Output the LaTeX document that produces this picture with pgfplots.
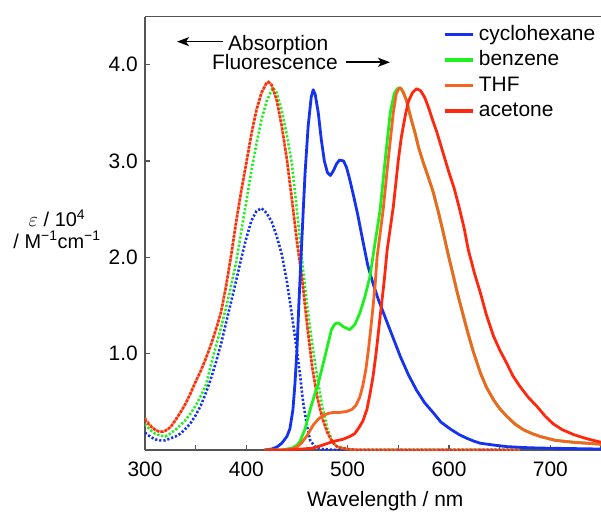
\documentclass[border=0pt]{standalone}
\usepackage{fontspec}
\setmainfont{Liberation Sans}
\usepackage{pgfplots}
\pgfplotsset{compat=1.18}
\usetikzlibrary{arrows.meta}
\definecolor{cblue}{RGB}{20,50,240}
\definecolor{cgreen}{RGB}{30,240,30}
\definecolor{cthf}{RGB}{245,100,35}
\definecolor{cacet}{RGB}{255,40,15}
\definecolor{axgray}{RGB}{85,85,85}
\begin{document}
\fontsize{21}{24}\selectfont
\begin{tikzpicture}
\useasboundingbox (-145bp,-62bp) rectangle (456bp,450bp);
\begin{axis}[
  at={(0,0)}, anchor=south west,
  scale only axis, width=456bp, height=433.5bp,
  xmin=300, xmax=750, ymin=0, ymax=4.5,
  axis x line*=box, axis y line*=left,
  axis line style={draw=axgray, line width=1.5bp, -},
  every tick/.style={draw=axgray, line width=1.2bp},
  tick align=inside,
  major tick length=5bp, minor tick length=5bp,
  xtick={300,400,...,700}, minor xtick={350,450,...,750},
  ytick={1,2,3,4},
  xtick pos=left, ytick pos=left,
  xticklabel style={anchor=base, yshift=-26.7bp, /pgf/number format/assume math mode=true},
  yticklabel style={/pgf/number format/.cd, fixed, fixed zerofill, precision=1, assume math mode=true},
  xlabel={Wavelength / nm},
  xlabel style={at={(axis description cs:0.527,0)}, anchor=base, yshift=-56bp},
  ylabel={$\varepsilon$ / 10\textsuperscript{4}\\/ M\textsuperscript{−1}cm\textsuperscript{−1}},
  ylabel style={rotate=-90, align=center, anchor=center, at={(axis description cs:-0.193,0.51)}, font=\fontsize{20}{21.5}\selectfont},
  legend style={draw=none, fill=none, at={(rel axis cs:0.653,0.988)}, anchor=north west, inner sep=0pt, row sep=0bp,
    nodes={inner ysep=3bp, inner xsep=4.5bp, text height=15.5bp, text depth=4bp}},
  legend cell align=left,
  legend image code/.code={\draw[#1, line width=3.5bp] (0bp,0bp) -- (28bp,0bp);},
  abs/.style={line width=2.6bp, dash pattern=on 2.2bp off 1.9bp},
  em/.style={line width=2.8bp, line join=round},
]
% absorption (dotted)
\addplot[abs, cblue, forget plot] coordinates {(300,0.18)(305,0.14)(310,0.11)(315,0.10)(320,0.10)(325,0.12)(330,0.14)(335,0.17)(340,0.22)(345,0.28)(350,0.36)(355,0.46)(360,0.59)(365,0.74)(370,0.91)(375,1.10)(380,1.32)(385,1.54)(390,1.76)(395,1.99)(400,2.20)(405,2.38)(410,2.48)(415,2.51)(420,2.46)(425,2.37)(430,2.22)(435,2.03)(440,1.75)(445,1.40)(450,1.02)(453,0.78)(456,0.50)(460,0.24)(463,0.10)(468,0.03)(475,0.01)(490,0)(670,0)};
\addplot[abs, cgreen, forget plot] coordinates {(300,0.27)(305,0.21)(310,0.17)(315,0.15)(320,0.14)(325,0.17)(330,0.21)(335,0.26)(340,0.31)(345,0.38)(350,0.46)(355,0.56)(360,0.67)(365,0.88)(370,1.08)(375,1.27)(380,1.48)(385,1.71)(390,1.95)(395,2.27)(400,2.58)(405,2.90)(410,3.18)(415,3.43)(420,3.62)(426,3.76)(430,3.71)(435,3.52)(440,3.27)(445,2.97)(450,2.48)(455,1.97)(460,1.50)(465,1.10)(470,0.75)(475,0.45)(480,0.22)(485,0.09)(490,0.03)(500,0.01)(510,0)(670,0)};
\addplot[abs, cthf, forget plot] coordinates {(300,0.33)(305,0.26)(310,0.21)(314,0.19)(318,0.19)(322,0.21)(326,0.25)(330,0.31)(335,0.39)(340,0.48)(345,0.59)(350,0.71)(355,0.82)(360,0.95)(365,1.09)(370,1.25)(375,1.43)(380,1.70)(385,2.02)(390,2.37)(395,2.69)(400,2.98)(405,3.28)(410,3.53)(415,3.71)(420,3.81)(422,3.82)(425,3.79)(430,3.63)(435,3.36)(440,3.02)(445,2.60)(450,2.16)(455,1.78)(460,1.30)(465,0.86)(470,0.55)(475,0.33)(480,0.18)(485,0.08)(490,0.03)(500,0.01)(510,0)(670,0)};
\addplot[abs, cacet, forget plot] coordinates {(300,0.31)(305,0.25)(310,0.21)(314,0.19)(318,0.19)(322,0.21)(326,0.25)(330,0.31)(335,0.39)(340,0.48)(345,0.59)(350,0.71)(355,0.82)(360,0.95)(365,1.09)(370,1.25)(375,1.43)(380,1.70)(385,2.02)(390,2.37)(395,2.69)(400,2.98)(405,3.28)(410,3.53)(415,3.71)(420,3.81)(422,3.82)(425,3.79)(430,3.63)(435,3.36)(440,3.02)(445,2.60)(450,2.16)(455,1.78)(460,1.30)(465,0.86)(470,0.55)(475,0.33)(480,0.18)(485,0.08)(490,0.03)(500,0.01)(510,0)(670,0)};
% fluorescence (solid)
\addplot[em, cblue] coordinates {(418,0)(425,0.01)(430,0.03)(435,0.07)(440,0.14)(443,0.22)(446,0.42)(448,0.69)(450,1.05)(452,1.55)(454,2.00)(456,2.45)(458,2.88)(461,3.36)(464,3.66)(466,3.74)(468,3.69)(471,3.50)(474,3.22)(477,3.00)(480,2.88)(483,2.85)(486,2.90)(489,2.97)(492,3.01)(496,3.00)(499,2.93)(502,2.81)(506,2.63)(510,2.44)(515,2.17)(520,1.91)(525,1.73)(530,1.57)(538,1.35)(545,1.16)(552,0.97)(560,0.78)(568,0.62)(576,0.49)(585,0.38)(592,0.29)(601,0.22)(610,0.16)(618,0.12)(625,0.09)(631,0.07)(645,0.05)(657,0.035)(675,0.025)(690,0.02)(720,0.015)(750,0.01)};
\addlegendentry{cyclohexane}
\addplot[em, cgreen] coordinates {(418,0)(435,0)(440,0.01)(445,0.02)(450,0.05)(453,0.09)(458,0.22)(463,0.42)(467,0.56)(471,0.69)(474,0.82)(477.6,0.97)(481,1.12)(484,1.25)(487.5,1.31)(490.8,1.32)(495.7,1.28)(502,1.25)(507,1.30)(512,1.42)(517,1.59)(522,1.80)(526,2.08)(532,2.49)(537,3.01)(542,3.50)(546,3.70)(549,3.75)(552,3.76)(555,3.71)(558,3.63)(562,3.46)(566.5,3.29)(570,3.14)(574.7,2.98)(580,2.82)(584.6,2.67)(590,2.45)(594.5,2.25)(599.4,2.02)(604,1.82)(608,1.64)(613,1.44)(618,1.24)(624,1.02)(631,0.80)(637,0.65)(644,0.52)(650,0.43)(657,0.35)(665,0.27)(673.5,0.21)(682,0.17)(690,0.14)(705,0.10)(723,0.08)(750,0.06)};
\addlegendentry{benzene}
\addplot[em, cthf] coordinates {(418,0)(440,0)(445,0.01)(450,0.03)(455,0.08)(460,0.15)(466,0.26)(471,0.32)(476,0.36)(481,0.38)(486,0.39)(492,0.39)(499,0.40)(504,0.42)(508,0.46)(512,0.55)(515,0.67)(518,0.84)(520.5,1.04)(524,1.38)(527,1.70)(529,2.00)(535,2.49)(540,3.01)(545,3.50)(548,3.70)(551,3.76)(553,3.75)(555,3.71)(558,3.63)(562,3.46)(566.5,3.29)(570,3.14)(574.7,2.98)(580,2.82)(584.6,2.67)(590,2.45)(594.5,2.25)(599.4,2.02)(604,1.82)(608,1.64)(613,1.44)(618,1.24)(624,1.02)(631,0.80)(637,0.65)(644,0.52)(650,0.43)(657,0.35)(665,0.27)(673.5,0.21)(682,0.17)(690,0.14)(705,0.10)(723,0.08)(750,0.06)};
\addlegendentry{THF}
\addplot[em, cacet] coordinates {(418,0)(440,0)(455,0.01)(466,0.02)(475,0.05)(486,0.09)(495,0.11)(502,0.14)(507,0.17)(511,0.23)(515,0.30)(519,0.42)(522,0.58)(525,0.76)(528,1.00)(532,1.38)(536,1.75)(539,2.08)(542,2.30)(545,2.52)(550,3.01)(553,3.25)(557,3.48)(560,3.62)(564,3.71)(568,3.75)(572,3.73)(576,3.66)(580,3.55)(584,3.42)(588,3.30)(592,3.16)(596,3.02)(600,2.88)(605,2.72)(610,2.52)(615,2.30)(619,2.08)(625,1.84)(631,1.63)(637,1.40)(644,1.18)(650,1.04)(657,0.90)(663,0.77)(670,0.66)(678,0.55)(687,0.45)(695,0.35)(703,0.27)(712,0.21)(723,0.16)(735,0.12)(750,0.08)};
\addlegendentry{acetone}
% annotations
\draw[-{Stealth[length=12bp,width=9bp,inset=3bp]}, line width=1.6bp] (axis cs:377,4.239) -- (axis cs:331.6,4.239);
\node[anchor=base west, inner sep=0pt] at (axis cs:381.9,4.152) {Absorption};
\node[anchor=base west, inner sep=0pt] at (axis cs:366.1,3.945) {Fluorescence};
\draw[-{Stealth[length=12bp,width=9bp,inset=3bp]}, line width=1.6bp] (axis cs:498.4,4.025) -- (axis cs:541.8,4.025);
\end{axis}
\end{tikzpicture}
\end{document}
